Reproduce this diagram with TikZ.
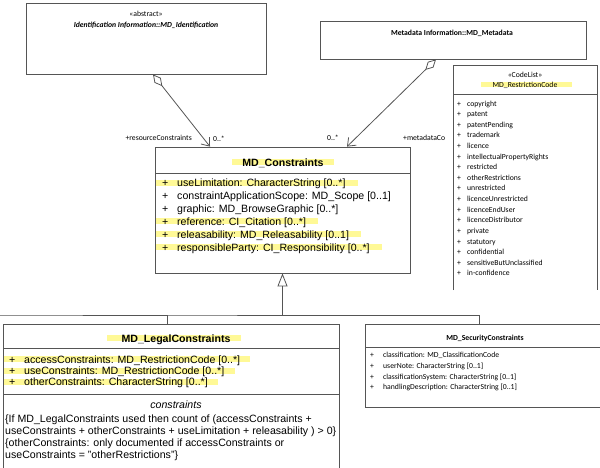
\documentclass[tikz,border=0pt]{standalone}
\usepackage{fontspec}
\setmainfont{Liberation Sans}
\newfontfamily\calibri{Carlito}
\usepackage{tikz}
\usetikzlibrary{calc,arrows.meta,backgrounds}
\definecolor{hlyellow}{RGB}{255,249,150}
\definecolor{umlline}{RGB}{85,85,85}

\tikzset{
  box/.style={draw=umlline,line width=0.8pt,inner sep=0pt},
  conn/.style={draw=umlline,line width=0.8pt},
  big/.style={inner sep=0pt,anchor=base west,font=\fontsize{10.6}{12}\selectfont},
  small/.style={inner sep=0pt,anchor=base west,font=\calibri\fontsize{7.7}{9}\selectfont},
}

\begin{document}
\begin{tikzpicture}[x=1pt,y=-1pt]
\useasboundingbox (0,0) rectangle (600,467);

% classes
\node[box,minimum width=240pt,minimum height=71pt] (ident) at (146,38.5) {};
\node[box,minimum width=266pt,minimum height=38pt] (meta) at (453,40) {};
\node[box,minimum width=255pt,minimum height=126pt] (cons) at (282.5,210) {};
\node[box,minimum width=336pt,minimum height=148pt] (legal) at (171,398) {};
\node[box,minimum width=240pt,minimum height=83pt] (secur) at (485,365.5) {};
\draw[conn] (453,290) -- (453,65) -- (597,65) -- (597,290);

\draw[conn] (155,173) -- (410,173);
\draw[conn] (3,348) -- (339,348);
\draw[conn] (3,394) -- (339,394);
\draw[conn] (365,347) -- (605,347);
\draw[conn] (453,94) -- (597,94);

% headers
\node[small,anchor=base] (idstereo) at (146,16.8) {«abstract»};
\node[small,anchor=base,font=\calibri\bfseries\itshape\fontsize{7.7}{9}\selectfont] (idname) at (146,27) {Identification Information::MD\_Identification};
\node[small,anchor=base,font=\calibri\bfseries\fontsize{7.7}{9}\selectfont] (metaname) at (452,35.8) {Metadata Information::MD\_Metadata};
\node[small,anchor=base] (clstereo) at (525,77.5) {«CodeList»};
\node[small,anchor=base] (clname) at (525,87) {MD\_RestrictionCode};
\node[big,anchor=base,font=\bfseries\fontsize{10.6}{12}\selectfont] (consname) at (283,166) {MD\_Constraints};
\node[big,anchor=base,font=\bfseries\fontsize{10.6}{12}\selectfont] (legalname) at (176,342) {MD\_LegalConstraints};
\node[small,anchor=base,font=\calibri\bfseries\fontsize{7.7}{9}\selectfont] (securname) at (485,340.5) {MD\_SecurityConstraints};

% attributes
\foreach \t [count=\i from 0] in {useLimitation: CharacterString [0..*],
  constraintApplicationScope: MD\_Scope [0..1],
  graphic: MD\_BrowseGraphic [0..*],
  reference: CI\_Citation [0..*],
  releasability: MD\_Releasability [0..1],
  responsibleParty: CI\_Responsibility [0..*]} {
  \node[big] (consplus\i) at (162,186.5+12.9*\i) {+};
  \node[big] (consattr\i) at (177,186.5+12.9*\i) {\t};
}
\foreach \t [count=\i from 0] in {accessConstraints: MD\_RestrictionCode [0..*],
  useConstraints: MD\_RestrictionCode [0..*],
  otherConstraints: CharacterString [0..*]} {
  \node[big] (legalplus\i) at (9,363.3+11.2*\i) {+};
  \node[big] (legalattr\i) at (24,363.3+11.2*\i) {\t};
}
\foreach \t [count=\i from 0] in {classification: MD\_ClassificationCode,
  userNote: CharacterString [0..1],
  classificationSystem: CharacterString [0..1],
  handlingDescription: CharacterString [0..1]} {
  \node[small] (securplus\i) at (370,357.8+10.7*\i) {+};
  \node[small] (securattr\i) at (383,357.8+10.7*\i) {\t};
}
\foreach \t [count=\i from 0] in {copyright,patent,patentPending,trademark,licence,
  intellectualPropertyRights,restricted,otherRestrictions,unrestricted,
  licenceUnrestricted,licenceEndUser,licenceDistributor,private,statutory,
  confidential,sensitiveButUnclassified,in-confidence} {
  \node[small] (clplus\i) at (457,106+10.62*\i) {+};
  \node[small] (clitem\i) at (467,106+10.62*\i) {\t};
}

% constraints
\node[big,anchor=base,font=\itshape\fontsize{10.6}{12}\selectfont] (legalcons) at (176,408) {constraints};
\node[big] (legalrule1) at (5,422.3) {\{If MD\_LegalConstraints used then count of (accessConstraints +};
\node[big] (legalrule2) at (5,434) {useConstraints + otherConstraints + useLimitation + releasability ) > 0\}};
\node[big] (legalrule3) at (5,446.7) {\{otherConstraints: only documented if accessConstraints or};
\node[big] (legalrule4) at (5,458) {useConstraints = "otherRestrictions"\}};

% highlights
\begin{scope}[on background layer]
\fill[hlyellow] ($(consname.base west)+(-10,-7)$) rectangle ($(consname.base east)+(10,-1)$);
\fill[hlyellow] ($(legalname.base west)+(-14,-7)$) rectangle ($(legalname.base east)+(10,-1)$);
\fill[hlyellow] ($(clname.base west)+(-11,-5)$) rectangle ($(clname.base east)+(14,0)$);
\foreach \i in {0,3,4,5} {
  \fill[hlyellow] ($(consplus\i.base west)+(-6,-7)$) rectangle ($(consattr\i.base east)+(12,-1)$);
}
\foreach \i in {0,1,2} {
  \fill[hlyellow] ($(legalplus\i.base west)+(-5,-7)$) rectangle ($(legalattr\i.base east)+(10,-1)$);
}
\end{scope}

% associations
\coordinate (bus) at (0,315);
\draw[conn,{Diamond[open,length=15pt,width=8pt]}-{Straight Barb[length=7pt,width=11pt]}]
  ($(ident.south)+(7,0)$) -- ($(cons.north)+(-72.5,0)$);
\draw[conn,{Diamond[open,length=15pt,width=8pt]}-{Straight Barb[length=7pt,width=11pt]}]
  ($(meta.south)+(-17,0)$) -- ($(cons.north)+(64.5,0)$);
\node[small,anchor=base east] (rolea) at (192,140.5) {+resourceConstraints};
\node[small] (multa) at (213,141.5) {0..*};
\node[small] (multb) at (327,140) {0..*};
\node[small] (roleb) at (403,140) {+metadataCo};

% generalization
\draw[conn] ($(legal.north)+(-4,0)$) |- (bus) -| ($(secur.north)+(-6,0)$);
\draw[conn,-{Triangle[open,length=13pt,width=10pt]}] (cons.south |- bus) -- (cons.south);

\end{tikzpicture}
\end{document}
